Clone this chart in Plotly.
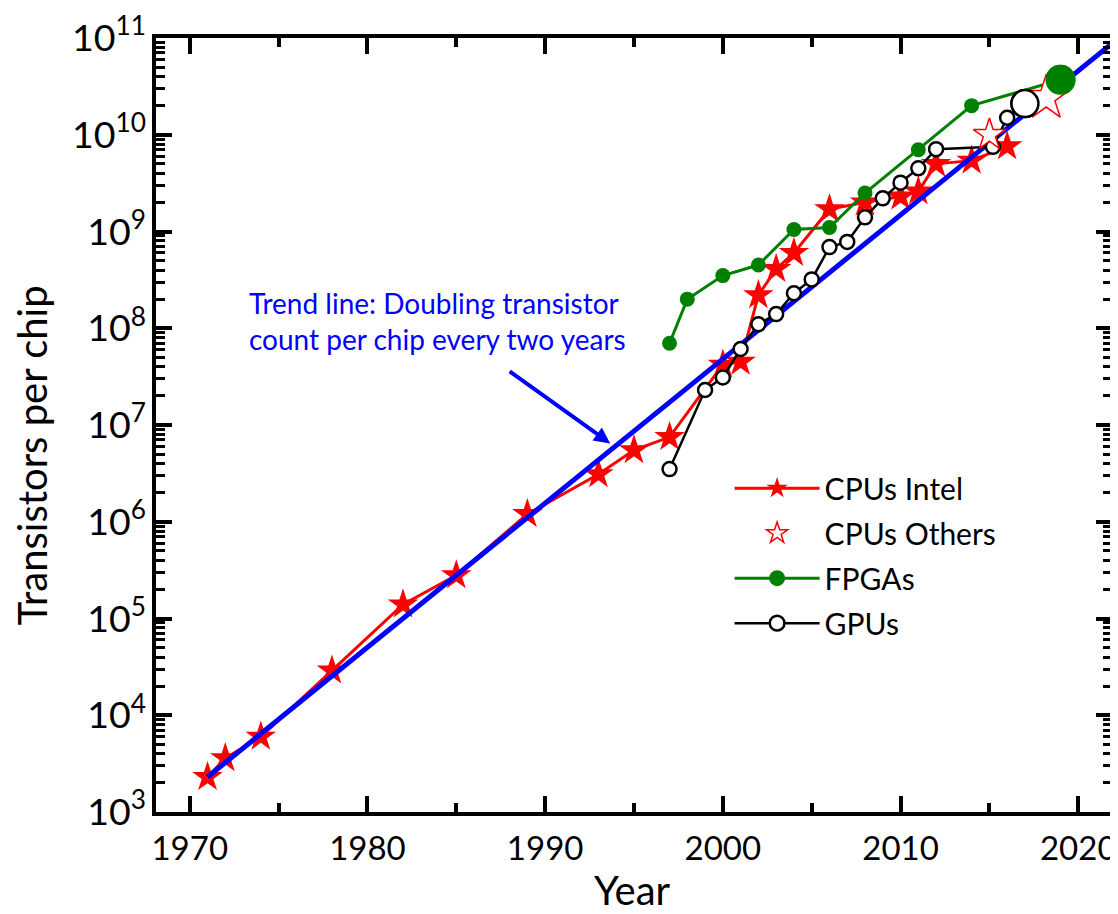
import plotly.graph_objects as go

# ---- data ----
intel_years = [1971, 1972, 1974, 1978, 1982, 1985, 1989, 1993, 1995, 1997,
               2000, 2001, 2002, 2003, 2004, 2006, 2008, 2010, 2011, 2012,
               2014, 2016]
intel_counts = [2.3e3, 3.6e3, 6.0e3, 2.9e4, 1.4e5, 2.8e5, 1.2e6, 3.1e6, 5.5e6, 7.5e6,
                4.2e7, 4.5e7, 2.2e8, 4.1e8, 6.0e8, 1.7e9, 2.0e9, 2.3e9, 2.6e9, 5.0e9,
                5.4e9, 7.6e9]

other_years = [2015, 2018.2]
other_counts = [1.0e10, 2.4e10]

fpga_years = [1997, 1998, 2000, 2002, 2004, 2006, 2008, 2011, 2014, 2019]
fpga_counts = [7.0e7, 2.0e8, 3.5e8, 4.5e8, 1.05e9, 1.1e9, 2.5e9, 7.0e9, 2.0e10, 3.7e10]

gpu_years = [1997, 1999, 2000, 2001, 2002, 2003, 2004, 2005, 2006, 2007,
             2008, 2009, 2010, 2011, 2012, 2015.2, 2016, 2017]
gpu_counts = [3.5e6, 2.3e7, 3.1e7, 6.1e7, 1.1e8, 1.4e8, 2.3e8, 3.2e8, 6.9e8, 7.8e8,
              1.4e9, 2.2e9, 3.2e9, 4.5e9, 7.1e9, 7.5e9, 1.5e10, 2.1e10]

trend_years = [1971, 2021.8]
trend_counts = [2.3e3, 8.5e10]

x_ticks = [1970, 1980, 1990, 2000, 2010, 2020]

x_title = "Year"
y_title = "Transistors per chip"
annotation_text = "Trend line: Doubling transistor<br>count per chip every two years"

FONT = "Lato"
RED = "#ff0000"
GREEN = "#008000"
BLUE = "#0000ff"

fig = go.Figure()

fig.add_trace(go.Scatter(
    x=intel_years, y=intel_counts, mode="lines+markers", name="CPUs Intel",
    line=dict(color=RED, width=3),
    marker=dict(symbol="star", size=23, color=RED, opacity=1, line=dict(width=0)),
    legendgroup="intel", legendrank=1))

fig.add_trace(go.Scatter(
    x=trend_years, y=trend_counts, mode="lines", showlegend=False,
    line=dict(color=BLUE, width=5)))

gpu_sizes = [14] * (len(gpu_years) - 1) + [27]
fig.add_trace(go.Scatter(
    x=gpu_years, y=gpu_counts, mode="lines+markers", name="GPUs",
    line=dict(color="black", width=2.5),
    marker=dict(symbol="circle", size=gpu_sizes, color="white", opacity=1,
                line=dict(color="black", width=2.5)),
    legendgroup="gpu", legendrank=4))

fpga_sizes = [15] * (len(fpga_years) - 1) + [30]
fig.add_trace(go.Scatter(
    x=fpga_years, y=fpga_counts, mode="lines+markers", name="FPGAs",
    line=dict(color=GREEN, width=3),
    marker=dict(symbol="circle", size=fpga_sizes, color=GREEN, opacity=1,
                line=dict(width=0)),
    legendgroup="fpga", legendrank=3))

fig.add_trace(go.Scatter(
    x=other_years[:-1], y=other_counts[:-1], mode="markers", name="CPUs Others",
    marker=dict(symbol="star", size=24, color="white", opacity=1,
                line=dict(color=RED, width=1.5)),
    legendgroup="others", legendrank=2))

# highlighted latest points drawn on top
fig.add_trace(go.Scatter(
    x=other_years[-1:], y=other_counts[-1:], mode="markers", showlegend=False,
    legendgroup="others",
    marker=dict(symbol="star", size=34, color="white", opacity=1,
                line=dict(color=RED, width=1.5))))
fig.add_trace(go.Scatter(
    x=gpu_years[-1:], y=gpu_counts[-1:], mode="markers", showlegend=False,
    legendgroup="gpu",
    marker=dict(symbol="circle", size=27, color="white", opacity=1,
                line=dict(color="black", width=2.5))))
fig.add_trace(go.Scatter(
    x=fpga_years[-1:], y=fpga_counts[-1:], mode="markers", showlegend=False,
    legendgroup="fpga",
    marker=dict(symbol="circle", size=30, color=GREEN, opacity=1, line=dict(width=0))))

fig.add_annotation(x=1973.2, y=8.07, xref="x", yref="y", text=annotation_text,
                   showarrow=False, xanchor="left", yanchor="middle", align="left",
                   font=dict(family=FONT, size=28, color=BLUE))
fig.add_annotation(x=1993.66, y=6.81, xref="x", yref="y", text="",
                   showarrow=True, ax=-102, ay=-73, arrowhead=2, arrowsize=0.8,
                   arrowwidth=4, arrowcolor=BLUE, standoff=0)

# axis titles placed as paper-anchored text
fig.add_annotation(x=0.498, y=-0.1008, xref="paper", yref="paper", text=x_title,
                   showarrow=False, xanchor="center", yanchor="middle",
                   font=dict(family=FONT, size=40, color="black"))
fig.add_annotation(x=-0.1297, y=0.461, xref="paper", yref="paper", text=y_title,
                   showarrow=False, xanchor="center", yanchor="middle", textangle=-90,
                   font=dict(family=FONT, size=40, color="black"))

axis_common = dict(
    showline=True, linewidth=4, linecolor="black", mirror="allticks",
    ticks="inside", tickwidth=4, tickcolor="black", ticklen=16,
    showgrid=False, zeroline=False, automargin=False,
)

fig.update_xaxes(
    **axis_common,
    range=[1968.1, 2021.9], tickvals=x_ticks, ticktext=[str(v) for v in x_ticks],
    tickfont=dict(family=FONT, size=33, color="black"),
    ticklabelstandoff=4,
    minor=dict(ticks="inside", ticklen=9, tickwidth=4, tickcolor="black", dtick=5,
               tick0=1970, showgrid=False),
)
fig.update_yaxes(
    **axis_common,
    type="log", range=[3, 11], dtick=1, exponentformat="power",
    tickfont=dict(family=FONT, size=30, color="black"),
    ticklabelstandoff=0,
    minor=dict(ticks="inside", ticklen=9, tickwidth=3, tickcolor="black", dtick="D1",
               showgrid=False),
)

fig.update_layout(
    width=1110, height=906,
    margin=dict(l=148, r=6, t=30, b=102, autoexpand=False),
    paper_bgcolor="white", plot_bgcolor="white",
    font=dict(family=FONT, color="black"),
    legend=dict(x=0.600, y=0.452, xanchor="left", yanchor="top",
                font=dict(family=FONT, size=30, color="black"),
                bgcolor="rgba(0,0,0,0)", traceorder="grouped", tracegroupgap=3,
                itemwidth=85),
)

fig.write_html("out.html")
